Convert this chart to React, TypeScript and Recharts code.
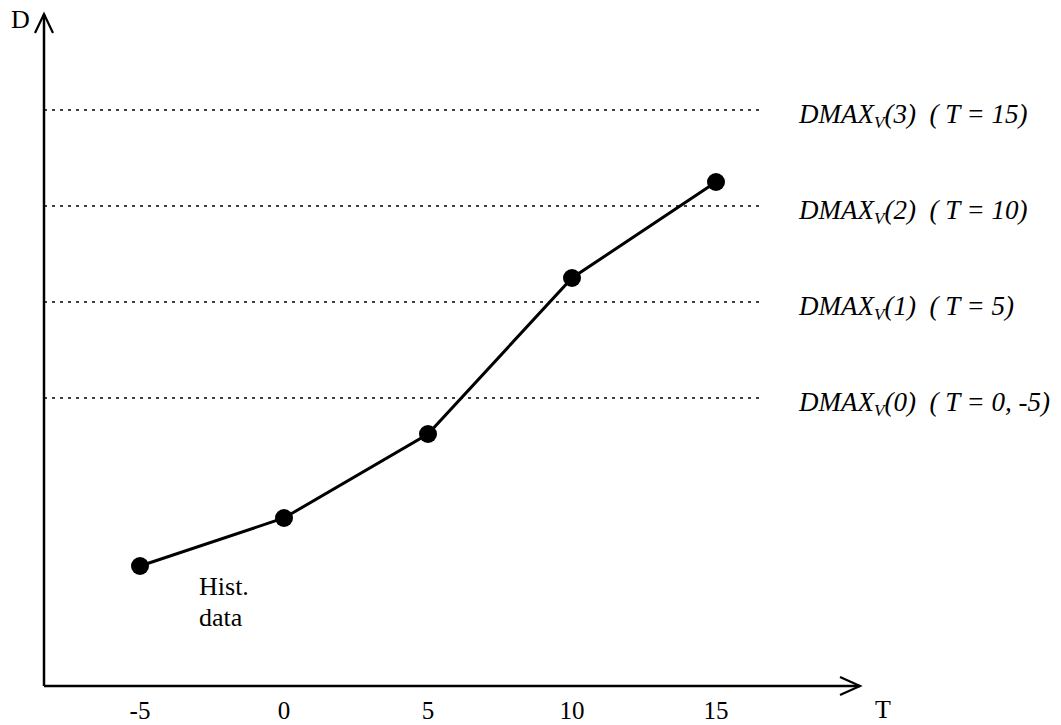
import React from 'react';
import { ComposedChart, Line, XAxis, YAxis, ReferenceLine, ReferenceDot } from 'recharts';

// ---- data ----
const tValues = [-5, 0, 5, 10, 15];
const dValues = [12.5, 17.5, 26.25, 42.5, 52.5];
const xTicks = [-5, 0, 5, 10, 15];
const dmaxLevels = [60, 50, 40, 30];
const dmaxIndex = ['3', '2', '1', '0'];
const dmaxConditions = ['T = 15', 'T = 10', 'T = 5', 'T = 0, -5'];
const histLabel = ['Hist.', 'data'];

const X_MIN = -25 / 3;
const X_MAX = 20;
const Y_MIN = 0;
const Y_MAX = 70;
const DOTTED_END = 16.6;
const HIST_POS = { x: -2.95, y: 9.5 };

const data = tValues.map((t, i) => ({ t, d: dValues[i] }));

const FONT = "'Liberation Serif', 'Times New Roman', Times, serif";

const XArrow = (props: any) => {
  const { cx, cy } = props;
  return (
    <path
      d={`M ${cx - 20} ${cy - 9} L ${cx} ${cy} L ${cx - 20} ${cy + 9}`}
      fill="none"
      stroke="#000"
      strokeWidth={2.2}
    />
  );
};

const YArrow = (props: any) => {
  const { cx, cy } = props;
  return (
    <path
      d={`M ${cx - 9} ${cy + 19} L ${cx} ${cy} L ${cx + 9} ${cy + 19}`}
      fill="none"
      stroke="#000"
      strokeWidth={2.2}
    />
  );
};

const XTick = (props: any) => {
  const { x, y, payload } = props;
  return (
    <text x={x} y={y + 33} textAnchor="middle" fontFamily={FONT} fontSize={25} fill="#000">
      {payload.value}
    </text>
  );
};

const makeDmaxLabel = (idx: string, cond: string) => (props: any) => {
  const vb = props.viewBox || {};
  const x = vb.x + vb.width + 37;
  const y = vb.y + 13;
  return (
    <text x={x} y={y} fontFamily={FONT} fontSize={27} fontStyle="italic" fill="#000">
      <tspan>DMAX</tspan>
      <tspan fontSize={17} dy={5}>V</tspan>
      <tspan dy={-5}>{`(${idx})\u00a0\u00a0(\u00a0${cond})`}</tspan>
    </text>
  );
};

const HistText = (props: any) => {
  const { cx, cy } = props;
  return (
    <g>
      {histLabel.map((s, i) => (
        <text key={s} x={cx} y={cy + i * 31} fontFamily={FONT} fontSize={26} fill="#000">
          {s}
        </text>
      ))}
    </g>
  );
};

export default function App() {
  return (
    <div style={{ position: 'absolute', left: 0, top: 0, width: 1061, height: 725, background: '#fff' }}>
      <ComposedChart
        width={1061}
        height={725}
        data={data}
        margin={{ top: 14, right: 201, bottom: 9, left: 44 }}
      >
        <XAxis
          dataKey="t"
          type="number"
          domain={[X_MIN, X_MAX]}
          ticks={xTicks}
          tickLine={false}
          tickSize={0}
          tickMargin={0}
          height={30}
          axisLine={{ stroke: '#000', strokeWidth: 2.5 }}
          tick={<XTick />}
          allowDataOverflow
        />
        <YAxis
          type="number"
          domain={[Y_MIN, Y_MAX]}
          width={0}
          tick={false}
          tickLine={false}
          axisLine={false}
          allowDataOverflow
        />
        <ReferenceLine x={X_MIN} stroke="#000" strokeWidth={2.5} ifOverflow="visible" />
        {dmaxLevels.map((lv, i) => (
          <ReferenceLine
            key={lv}
            segment={[{ x: X_MIN, y: lv }, { x: DOTTED_END, y: lv }]}
            stroke="#000"
            strokeWidth={1.5}
            strokeDasharray="3 5"
            label={makeDmaxLabel(dmaxIndex[i], dmaxConditions[i])}
          />
        ))}
        <Line
          dataKey="d"
          type="linear"
          stroke="#000"
          strokeWidth={3}
          dot={{ r: 9, fill: '#000', stroke: 'none' }}
          activeDot={false}
          isAnimationActive={false}
        />
        <ReferenceDot x={X_MAX} y={Y_MIN} r={0} shape={<XArrow />} ifOverflow="visible" />
        <ReferenceDot x={X_MIN} y={Y_MAX} r={0} shape={<YArrow />} ifOverflow="visible" />
        <ReferenceDot x={HIST_POS.x} y={HIST_POS.y} r={0} shape={<HistText />} ifOverflow="visible" />
        <text x={11} y={28} fontFamily={FONT} fontSize={26} fill="#000">D</text>
        <text x={875} y={718} fontFamily={FONT} fontSize={26} fill="#000">T</text>
      </ComposedChart>
    </div>
  );
}
